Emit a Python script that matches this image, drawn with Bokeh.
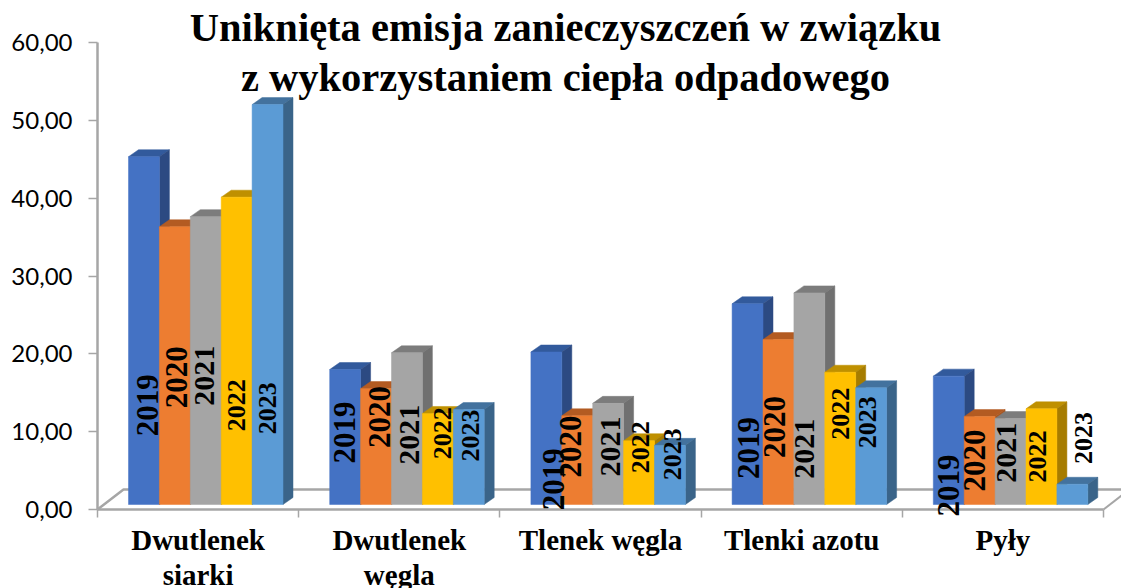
from bokeh.plotting import figure
from bokeh.models import FixedTicker, Label, Range1d
from bokeh.embed import file_html
from bokeh.resources import INLINE

categories = ["Dwutlenek\nsiarki", "Dwutlenek\nwęgla", "Tlenek węgla", "Tlenki azotu", "Pyły"]
years = ["2019", "2020", "2021", "2022", "2023"]
v2019 = [44.7, 17.35, 19.6, 25.8, 16.5]
v2020 = [35.7, 14.9, 11.4, 21.2, 11.3]
v2021 = [37.0, 19.5, 13.0, 27.2, 11.05]
v2022 = [39.5, 11.7, 8.2, 17.0, 12.3]
v2023 = [51.4, 12.2, 7.6, 15.0, 2.6]
series = [v2019, v2020, v2021, v2022, v2023]
y_ticks = [0, 10, 20, 30, 40, 50, 60]
y_labels = {t: f"{t},00" for t in y_ticks}

front = ["#4472C4", "#ED7D31", "#A5A5A5", "#FFC000", "#5B9BD5"]
top_c = ["#325A9C", "#B35B22", "#7C7C7C", "#BF9000", "#43729E"]
side = ["#2C4A82", "#A8551F", "#707070", "#A67C00", "#3A6489"]

# label centres, in axis units (x in category widths, y in value units)
lab_x = [[0.249, 1.226, 2.264, 3.234, 4.232],
         [0.393, 1.400, 2.349, 3.363, 4.361],
         [0.532, 1.549, 2.548, 3.512, 4.520],
         [0.691, 1.713, 2.697, 3.691, 4.674],
         [0.845, 1.852, 2.856, 3.826, 4.900]]
lab_y = [[13.4, 9.9, 3.9, 7.9, 3.1],
         [17.0, 11.9, 8.1, 10.6, 6.3],
         [17.2, 9.6, 8.1, 7.8, 7.3],
         [13.4, 9.8, 8.0, 12.3, 6.8],
         [13.0, 9.5, 7.1, 11.2, 9.2]]
lab_size = ["31px", "31px", "30px", "26px", "26px"]

W, H = 1121, 588
LEFT, BOTTOM = 97, 79
PX_X = 201.2          # pixels per category
PX_Y = 7.78           # pixels per value unit
BASE = 5 / PX_Y       # bars stand slightly in front of the axis plane
DX = 10 / PX_X        # 3D depth
DY = 7 / PX_Y
BAR_W = 30.9 / PX_X
START = 31 / PX_X
X_END = (W - LEFT) / PX_X

# the plot frame fills the whole canvas; the axes are pinned inside it at zero
p = figure(width=W, height=H, output_backend="svg", toolbar_location=None,
           x_range=Range1d(-LEFT / PX_X, X_END), y_range=Range1d(-BOTTOM / PX_Y, (H - BOTTOM) / PX_Y),
           min_border_left=0, min_border_right=0, min_border_top=0, min_border_bottom=0,
           outline_line_color=None, background_fill_color="white")
p.grid.visible = False

GREY = "#A6A6A6"
# floor of the 3D box
wall_x = DX * 2.6
wall_y = 20 / PX_Y
p.line([0, wall_x, X_END], [0, wall_y, wall_y], line_color=GREY, line_width=2.5)
p.line([5, X_END], [0, wall_y * 0.7], line_color=GREY, line_width=2)

for g in range(len(categories)):
    for s, vals in enumerate(series):
        x0 = g + START + s * BAR_W
        x1 = x0 + BAR_W
        y0 = BASE
        y1 = BASE + vals[g]
        p.patch([x0, x1, x1 + DX, x0 + DX], [y1, y1, y1 + DY, y1 + DY], fill_color=top_c[s], line_color=top_c[s], line_width=0.5)
        p.patch([x1, x1 + DX, x1 + DX, x1], [y0, y0 + DY, y1 + DY, y1], fill_color=side[s], line_color=side[s], line_width=0.5)
        p.quad(left=x0, right=x1, bottom=y0, top=y1, fill_color=front[s], line_color=front[s], line_width=0.5)

for s in range(5):
    for g in range(5):
        p.add_layout(Label(x=lab_x[s][g], y=lab_y[s][g], text=years[s], angle=90, angle_units="deg",
                           text_align="center", text_baseline="middle",
                           text_font="Liberation Serif", text_font_style="bold",
                           text_font_size=lab_size[s], text_color="black"))

xa = p.xaxis[0]
xa.fixed_location = 0
xa.bounds = (0, 5)
xa.ticker = FixedTicker(ticks=[i + 0.5 for i in range(5)], minor_ticks=list(range(6)))
xa.major_label_overrides = {i + 0.5: c for i, c in enumerate(categories)}
xa.major_tick_out = 0
xa.major_tick_in = 0
xa.minor_tick_out = 8
xa.minor_tick_in = 0
xa.minor_tick_line_color = GREY
xa.minor_tick_line_width = 1.5
xa.axis_line_color = GREY
xa.axis_line_width = 2.5
xa.major_label_standoff = 6
xa.major_label_text_font = "Liberation Serif"
xa.major_label_text_font_style = "bold"
xa.major_label_text_font_size = "29px"
xa.major_label_text_line_height = 1.1
xa.major_label_text_color = "black"

ya = p.yaxis[0]
ya.fixed_location = 0
ya.bounds = (0, 60)
ya.ticker = FixedTicker(ticks=y_ticks)
ya.major_label_overrides = y_labels
ya.major_tick_out = 9
ya.major_tick_in = 0
ya.minor_tick_out = 0
ya.minor_tick_in = 0
ya.major_tick_line_color = GREY
ya.major_tick_line_width = 1.5
ya.axis_line_color = GREY
ya.axis_line_width = 2.5
ya.major_label_standoff = 16
ya.major_label_text_font = "Lato"
ya.major_label_text_font_size = "24px"
ya.major_label_text_color = "black"

p.add_layout(Label(x=565, y=536, x_units="screen", y_units="screen", text_align="center", text_baseline="middle",
                   text="Uniknięta emisja zanieczyszczeń w związku\nz wykorzystaniem ciepła odpadowego",
                   text_font="Liberation Serif", text_font_style="bold", text_font_size="40.5px", text_color="black",
                   text_line_height=1.11))

open("out.html", "w").write(file_html(p, INLINE))
